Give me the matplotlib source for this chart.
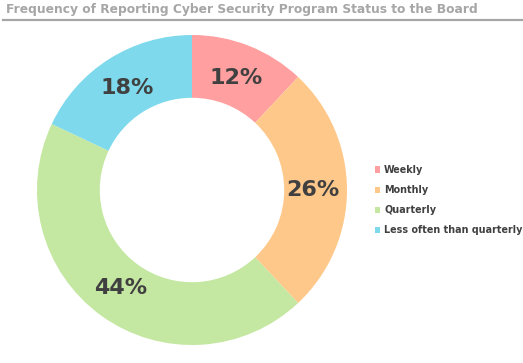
import matplotlib
matplotlib.use("Agg")
import matplotlib.pyplot as plt
from matplotlib.lines import Line2D

labels = ['Weekly', 'Monthly', 'Quarterly', 'Less often than quarterly']
values = [12, 26, 44, 18]
colors = ['#FF9F9F', '#FFC88B', '#C4E7A1', '#7ED9EC']

fig = plt.figure(figsize=(5.23, 3.63), dpi=100)

fig.text(6 / 523, 1 - 10 / 363, 'Frequency of Reporting Cyber Security Program Status to the Board',
         fontsize=8.85, fontweight='bold', color='#A6A6A6', va='center', ha='left')
fig.add_artist(Line2D([3 / 523, 1], [1 - 20 / 363, 1 - 20 / 363], color='#A6A6A6', lw=1.6))

ax = fig.add_axes([(192 - 155) / 523, (363 - 190 - 155) / 363, 310 / 523, 310 / 363])
wedges, texts, autotexts = ax.pie(values, colors=colors, startangle=90, counterclock=False,
                                  autopct='%d%%', pctdistance=0.78,
                                  wedgeprops=dict(width=0.405, linewidth=0))
for t in autotexts:
    t.set_fontsize(16)
    t.set_fontweight('bold')
    t.set_color('#404040')
ax.set_xlim(-1, 1)
ax.set_ylim(-1, 1)
ax.set_aspect('equal')

leg = fig.legend(wedges, labels, loc='center left', bbox_to_anchor=(366 / 523, 1 - 200 / 363),
                 frameon=False, handlelength=0.6, handleheight=0.6, handletextpad=0.4,
                 labelspacing=1.05, prop=dict(size=6.9, weight='bold'))
for t in leg.get_texts():
    t.set_color('#404040')

fig.savefig('out.png', dpi=100)
